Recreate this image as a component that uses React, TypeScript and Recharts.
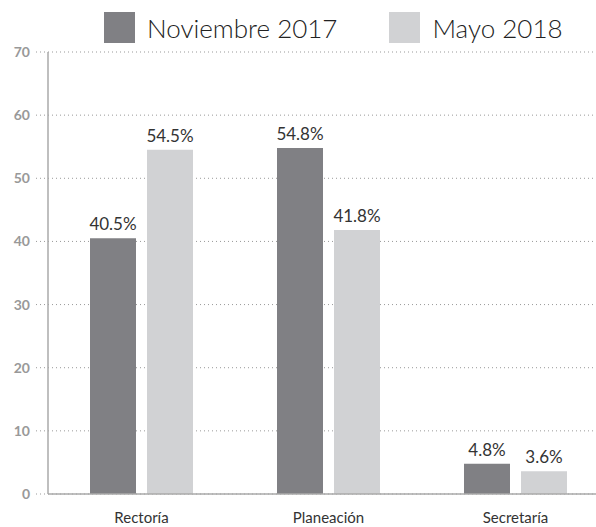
import React from 'react'
import { Bar, BarChart, CartesianGrid, LabelList, Legend, XAxis, YAxis } from 'recharts'

const categories = ['Rectoría', 'Planeación', 'Secretaría']
const nov2017 = [40.5, 54.8, 4.8]
const mayo2018 = [54.5, 41.8, 3.6]
const yTicks = [0, 10, 20, 30, 40, 50, 60, 70]

const series = [
  { key: 'nov', name: 'Noviembre 2017', color: '#808084' },
  { key: 'mayo', name: 'Mayo 2018', color: '#d1d2d4' },
]

const data = categories.map((name, i) => ({ name, nov: nov2017[i], mayo: mayo2018[i] }))

const FONT = 'Lato, "Open Sans", sans-serif'

const LegendContent = () => (
  <div style={{ display: 'flex', width: 596, height: 44, paddingLeft: 104, paddingTop: 4, boxSizing: 'border-box', fontFamily: FONT, whiteSpace: 'nowrap' }}>
    {series.map(s => (
      <div key={s.key} style={{ display: 'flex', flexShrink: 0, alignItems: 'center', marginRight: 52, height: 31 }}>
        <div style={{ width: 31, height: 31, flexShrink: 0, background: s.color, marginRight: 12 }} />
        <span style={{ fontSize: 26, color: '#222', fontWeight: 300 }}>{s.name}</span>
      </div>
    ))}
  </div>
)

const fmt = (v: number) => `${v}%`

export default function App() {
  return (
    <div style={{ position: 'absolute', left: 0, top: 0, width: 596, height: 527, overflow: 'hidden', background: '#fff' }}>
      <BarChart
        width={620}
        height={527}
        data={data}
        margin={{ top: 8, right: 11, left: 0, bottom: 3 }}
        barGap={11}
        barSize={46}
      >
        <CartesianGrid vertical={false} stroke="#999" strokeDasharray="1 3" />
        <Legend verticalAlign="top" align="left" height={44} width={596} wrapperStyle={{ left: 0, width: 596 }} content={<LegendContent />} />
        <XAxis
          dataKey="name"
          height={30}
          tickLine={false}
          tickSize={0}
          tickMargin={18}
          axisLine={{ stroke: '#aaa', strokeWidth: 1.5 }}
          tick={{ fill: '#333', fontSize: 15, fontFamily: FONT }}
        />
        <YAxis
          width={48}
          domain={[0, 70]}
          ticks={yTicks}
          interval={0}
          tickSize={12}
          tickMargin={6}
          tickLine={{ stroke: '#999', strokeDasharray: '1 3' }}
          axisLine={{ stroke: '#aaa', strokeWidth: 1.5 }}
          tick={{ fill: '#999', fontSize: 14, fontWeight: 700, fontFamily: FONT }}
        />
        {series.map(s => (
          <Bar key={s.key} dataKey={s.key} name={s.name} fill={s.color} isAnimationActive={false}>
            <LabelList dataKey={s.key} position="top" offset={8} formatter={fmt} fill="#333" fontSize={17} fontFamily={FONT} />
          </Bar>
        ))}
      </BarChart>
    </div>
  )
}
